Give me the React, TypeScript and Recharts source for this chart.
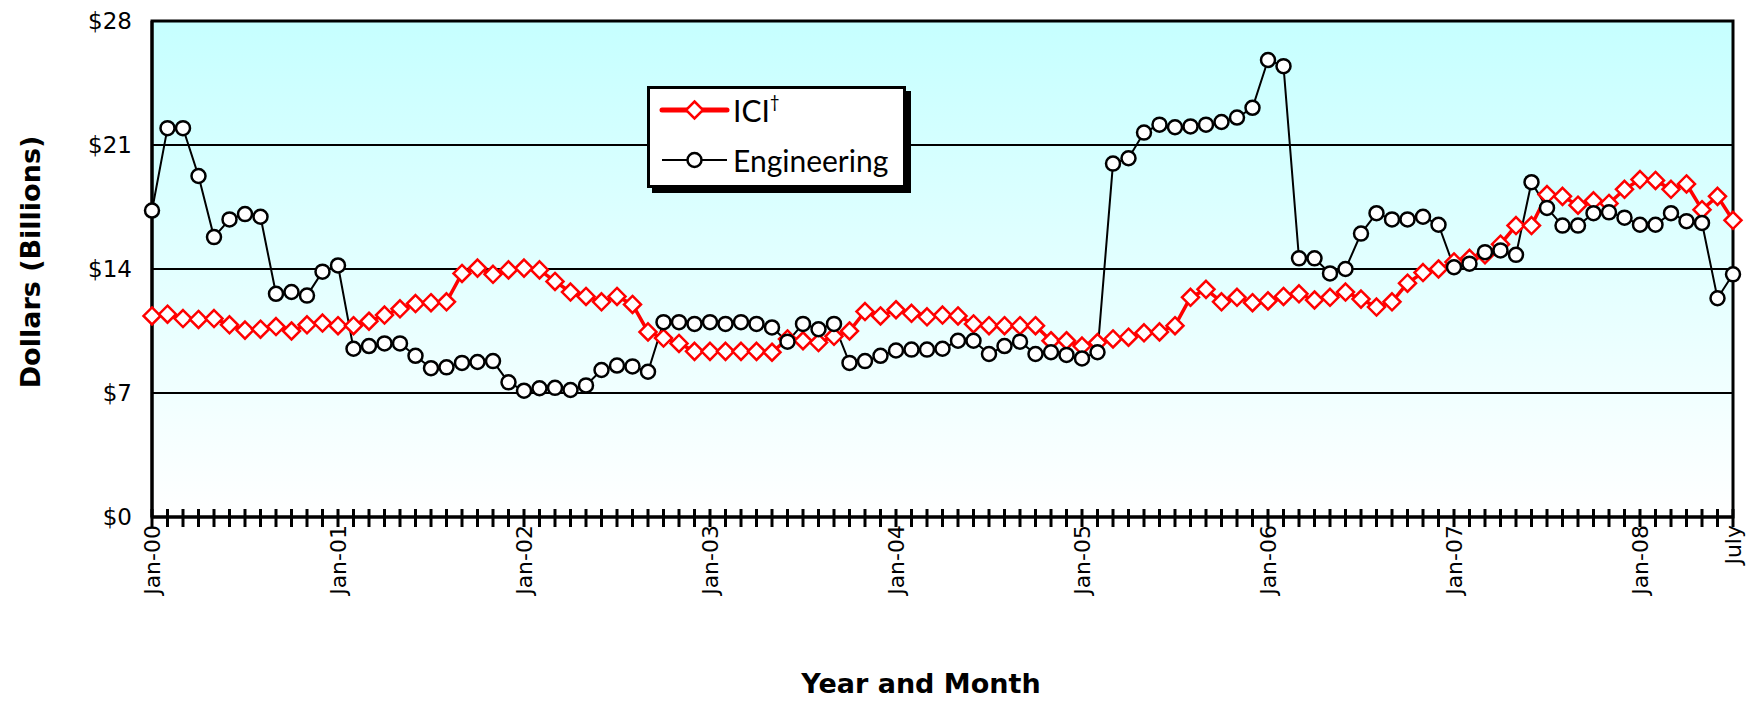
import React from 'react';
import { LineChart, Line, XAxis, YAxis, CartesianGrid, ReferenceArea } from 'recharts';

const monthNames = ['Jan', 'Feb', 'Mar', 'Apr', 'May', 'Jun', 'Jul', 'Aug', 'Sep', 'Oct', 'Nov', 'Dec'];
const years = ['00', '01', '02', '03', '04', '05', '06', '07', '08'];
const lastTickLabel = 'July';
const yTicks = [0, 7, 14, 21, 28];

// ICI† (red diamonds), Jan-00 .. Jul-08, $ billions
const iciValues = [
  11.35, 11.45, 11.2, 11.15, 11.2, 10.85, 10.55, 10.6, 10.75, 10.5, 10.85, 10.95,
  10.8, 10.8, 11.05, 11.4, 11.75, 12.05, 12.1, 12.15, 13.75, 14.05, 13.7, 13.95,
  14.05, 13.95, 13.3, 12.7, 12.45, 12.15, 12.45, 12.0, 10.45, 10.1, 9.8, 9.35,
  9.35, 9.35, 9.35, 9.35, 9.3, 10.05, 9.95, 9.85, 10.2, 10.5, 11.6, 11.35,
  11.7, 11.5, 11.3, 11.4, 11.35, 10.9, 10.8, 10.8, 10.8, 10.8, 9.95, 9.95,
  9.65, 9.85, 10.05, 10.15, 10.4, 10.45, 10.8, 12.4, 12.85, 12.15, 12.4, 12.1,
  12.2, 12.45, 12.6, 12.25, 12.4, 12.7, 12.3, 11.85, 12.15, 13.2, 13.8, 14.0,
  14.4, 14.6, 14.8, 15.4, 16.45, 16.45, 18.2, 18.1, 17.6, 17.85, 17.7, 18.5,
  19.05, 19.0, 18.5, 18.8, 17.35, 18.1, 16.75,
];

// Engineering (black circles)
const engValues = [
  17.3, 21.95, 21.95, 19.25, 15.8, 16.8, 17.1, 16.95, 12.6, 12.7, 12.5, 13.85,
  14.2, 9.5, 9.65, 9.8, 9.8, 9.1, 8.4, 8.45, 8.7, 8.75, 8.8, 7.6,
  7.13, 7.27, 7.29, 7.17, 7.43, 8.3, 8.55, 8.5, 8.2, 11.0, 11.0, 10.9,
  11.0, 10.9, 11.0, 10.9, 10.7, 9.9, 10.9, 10.6, 10.9, 8.7, 8.8, 9.1,
  9.4, 9.45, 9.45, 9.5, 9.95, 9.95, 9.2, 9.65, 9.9, 9.2, 9.3, 9.15,
  8.95, 9.3, 19.95, 20.25, 21.7, 22.15, 22.0, 22.05, 22.15, 22.3, 22.55, 23.1,
  25.8, 25.45, 14.6, 14.6, 13.75, 14.0, 16.0, 17.15, 16.8, 16.8, 16.95, 16.5,
  14.1, 14.3, 14.95, 15.05, 14.8, 18.9, 17.45, 16.45, 16.45, 17.15, 17.2, 16.9,
  16.5, 16.5, 17.15, 16.7, 16.6, 12.35, 13.7,
];

const allMonths: string[] = [];
years.forEach((yy) => monthNames.forEach((m) => allMonths.push(`${m}-${yy}`)));
const months = allMonths.slice(0, iciValues.length);

const data = months.map((m, i) => ({ month: m, ici: iciValues[i], eng: engValues[i] }));

const FONT = 'Lato, "Open Sans", sans-serif';
const AXFONT = '"DejaVu Sans", Verdana, sans-serif';

const XTick = (props: any) => {
  const { x, y, payload } = props;
  const v: string = payload.value;
  const isLast = v === months[months.length - 1];
  const label = isLast ? lastTickLabel : v.startsWith('Jan') ? v : '';
  return (
    <g>
      <line x1={x} x2={x} y1={y - 8} y2={y + 10} stroke="#000" strokeWidth={3} />
      {label ? (
        <text
          x={x}
          y={y + 8}
          transform={`rotate(-90, ${x}, ${y + 8})`}
          textAnchor="end"
          dy="0.36em"
          fontSize={22}
          fill="#000"
          fontFamily={AXFONT}
        >
          {label}
        </text>
      ) : null}
    </g>
  );
};

const Diamond = (props: any) => {
  const { cx, cy, index } = props;
  if (cx == null || cy == null) return <g key={`dm-${index}`} />;
  const r = 8.5;
  return (
    <path
      key={`dm-${index}`}
      d={`M${cx},${cy - r}L${cx + r},${cy}L${cx},${cy + r}L${cx - r},${cy}Z`}
      fill="#fff"
      stroke="#ff0000"
      strokeWidth={2.5}
    />
  );
};

const LegendBox = () => (
  <div
    style={{
      position: 'absolute',
      left: 647,
      top: 86,
      width: 259,
      height: 102,
      boxSizing: 'border-box',
      border: '3px solid #000',
      background: '#fff',
      boxShadow: '5px 5px 0 #000',
      fontFamily: FONT,
      color: '#000',
    }}
  >
    <svg width={80} height={96} style={{ position: 'absolute', left: 0, top: 0 }}>
      <line x1={12} x2={77} y1={21} y2={21} stroke="#ff0000" strokeWidth={5} strokeLinecap="round" />
      <path d="M44.5,12.5L53,21L44.5,29.5L36,21Z" fill="#fff" stroke="#ff0000" strokeWidth={2.5} />
      <line x1={12} x2={77} y1={71} y2={71} stroke="#000" strokeWidth={2} />
      <circle cx={44.5} cy={71} r={7} fill="#fff" stroke="#000" strokeWidth={2.5} />
    </svg>
    <div style={{ position: 'absolute', left: 83, top: 21, transform: 'translateY(-50%)', fontSize: 30, lineHeight: 1 }}>
      ICI<sup style={{ fontSize: 17, verticalAlign: 'top', position: 'relative', top: -2 }}>†</sup>
    </div>
    <div style={{ position: 'absolute', left: 83, top: 71, transform: 'translateY(-50%)', fontSize: 30, lineHeight: 1 }}>
      Engineering
    </div>
  </div>
);

export default function App() {
  return (
    <div style={{ position: 'absolute', left: 0, top: 0, width: 1747, height: 702, background: '#fff', overflow: 'hidden' }}>
      <svg width={0} height={0} style={{ position: 'absolute' }}>
        <defs>
          <linearGradient id="plotBg" x1="0" y1="0" x2="0" y2="1">
            <stop offset="0%" stopColor="#c6ffff" />
            <stop offset="100%" stopColor="#ffffff" />
          </linearGradient>
        </defs>
      </svg>
      <LineChart
        width={1747}
        height={702}
        data={data}
        margin={{ top: 21, right: 14, left: 92, bottom: 0 }}
      >
        <CartesianGrid
          vertical={false}
          stroke="#000"
          strokeWidth={2}
          fill="url(#plotBg)"
          fillOpacity={1}
        />
        <XAxis
          dataKey="month"
          interval={0}
          height={185}
          tickSize={0}
          tickMargin={0}
          tick={<XTick />}
          axisLine={{ stroke: '#000', strokeWidth: 3 }}
          tickLine={false}
        />
        <YAxis
          type="number"
          domain={[0, 28]}
          ticks={yTicks}
          width={60}
          tickSize={0}
          tickMargin={20}
          tickFormatter={(v: number) => `$${v}`}
          tick={{ fontSize: 23, fill: '#000', fontFamily: AXFONT }}
          axisLine={{ stroke: '#000', strokeWidth: 3 }}
          tickLine={false}
        />
        <ReferenceArea
          x1={months[0]}
          x2={months[months.length - 1]}
          y1={0}
          y2={28}
          fill="none"
          stroke="#000"
          strokeWidth={3}
          ifOverflow="visible"
        />
        <Line
          type="linear"
          dataKey="ici"
          name="ICI†"
          stroke="#ff0000"
          strokeWidth={3.5}
          dot={Diamond}
          activeDot={false}
          isAnimationActive={false}
        />
        <Line
          type="linear"
          dataKey="eng"
          name="Engineering"
          stroke="#000"
          strokeWidth={2}
          dot={{ r: 7, fill: '#fff', stroke: '#000', strokeWidth: 2.5 }}
          activeDot={false}
          isAnimationActive={false}
        />
      </LineChart>
      <LegendBox />
      <svg width={1747} height={702} style={{ position: 'absolute', left: 0, top: 0, pointerEvents: 'none' }}>
        <text
          x={30}
          y={262}
          transform="rotate(-90, 30, 262)"
          textAnchor="middle"
          dominantBaseline="central"
          fontSize={27}
          fontWeight="bold"
          fontFamily={AXFONT}
          fill="#000"
        >
          Dollars (Billions)
        </text>
        <text x={921} y={693} textAnchor="middle" fontSize={27} fontWeight="bold" fontFamily={AXFONT} fill="#000">
          Year and Month
        </text>
      </svg>
    </div>
  );
}
